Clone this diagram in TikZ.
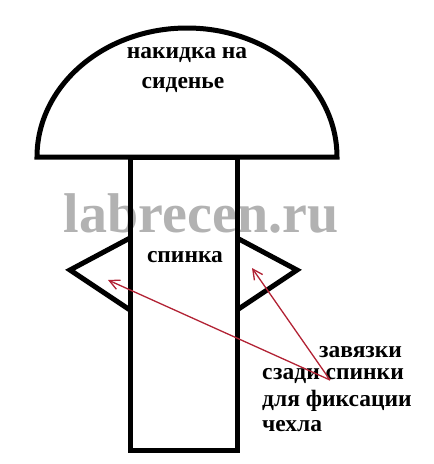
\documentclass[tikz,border=0pt]{standalone}
\usepackage{fontspec}
\setmainfont{Liberation Serif}
\usetikzlibrary{arrows.meta}
\definecolor{tiered}{RGB}{178,34,52}
\definecolor{markgray}{RGB}{178,178,178}

\begin{document}
\begin{tikzpicture}[x=1pt, y=-1pt,
    outline/.style={line width=5pt, line join=miter},
    label/.style={font=\fontsize{23.5}{25}\selectfont\bfseries, inner sep=0pt},
    tiearrow/.style={tiered, line width=1.3pt, -{Straight Barb[length=10pt, width=10pt]}}]
    \useasboundingbox (0,0) rectangle (434,464);
    % watermark
    \node[text=markgray, font=\fontsize{56}{56}\selectfont\bfseries, inner sep=0pt] (mark) at (201,213) {labrecen.ru};
    % seat cover and back
    \draw[outline] (37,157) arc[start angle=180, end angle=360, x radius=150, y radius=129] -- cycle;
    \draw[outline] (130,157) rectangle (237,450);
    \draw[outline] (130,238) -- (70,270) -- (130,310);
    \draw[outline] (237,238) -- (297,270) -- (237,310);
    % labels
    \node[label] (seat1) at (187,55) {накидка на};
    \node[label] (seat2) at (183,85) {сиденье};
    \node[label] (back) at (185,257) {спинка};
    \node[label, anchor=west] (tie1) at (319,352) {завязки};
    \node[label, anchor=west] (tie2) at (262,376) {сзади спинки};
    \node[label, anchor=west] (tie3) at (262,401) {для фиксации};
    \node[label, anchor=west] (tie4) at (262,426) {чехла};
    % ties
    \coordinate (tail) at (330,380);
    \coordinate (leftend) at (108,280);
    \coordinate (rightend) at (252,268);
    \draw[tiearrow] (tail) to (leftend);
    \draw[tiearrow] (tail) to (rightend);
\end{tikzpicture}
\end{document}
